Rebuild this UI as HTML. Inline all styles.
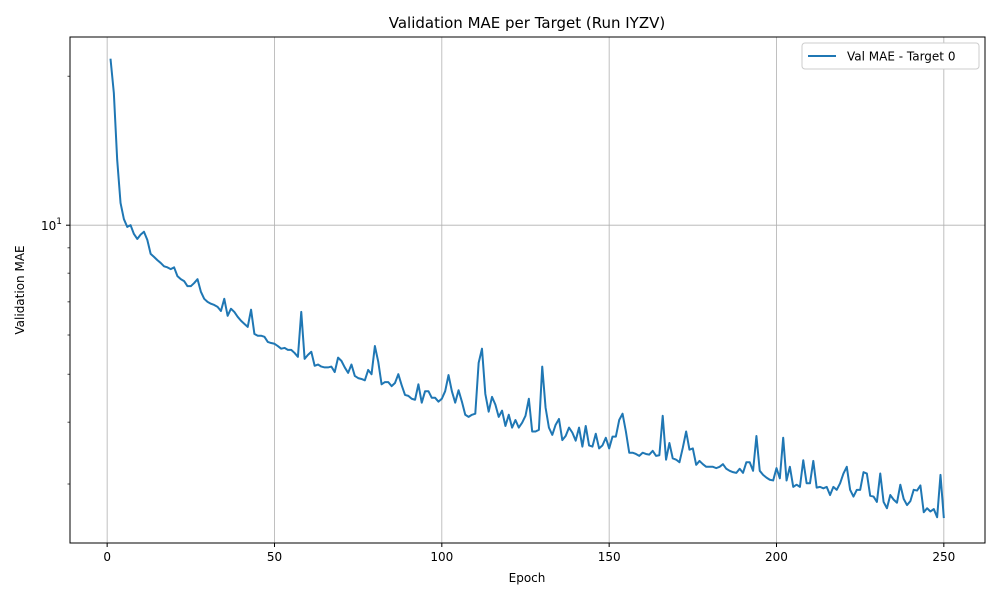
<!DOCTYPE html>
<html><head><meta charset="utf-8"><style>
body{margin:0;background:#fff;font-family:"Liberation Sans","DejaVu Sans",sans-serif}
svg text{font-family:"DejaVu Sans","Liberation Sans",sans-serif;fill:#000}
</style></head><body>
<svg id="chart" width="1000" height="600" xmlns="http://www.w3.org/2000/svg">
<rect width="1000" height="600" fill="#fff"/>
<text x="527" y="28" font-size="15" text-anchor="middle">Validation MAE per Target (Run IYZV)</text>
<g id="grid"></g>
<g id="ticks"></g>
<path id="line" fill="none" stroke="#1f77b4" stroke-width="2" stroke-linejoin="round"/>
<rect x="70" y="37" width="915" height="506" fill="none" stroke="#000" stroke-width="1"/>
<text x="527" y="582" font-size="12" text-anchor="middle">Epoch</text>
<text transform="translate(24,290) rotate(-90)" font-size="12" text-anchor="middle">Validation MAE</text>
<g>
<rect x="802" y="43" width="177" height="26" rx="3" fill="#fff" stroke="#ccc"/>
<line x1="808" y1="56" x2="836" y2="56" stroke="#1f77b4" stroke-width="2"/>
<text x="847" y="60.5" font-size="12">Val MAE - Target 0</text>
</g>
</svg>
<script>
const xTicks=[0,50,100,150,200,250];
const yMajor=[10];
const yMinor=[3,4,5,6,7,8,9,20];
const maeValues=[21.7,18.5,13.55,11.09,10.29,9.92,10.0,9.60,9.38,9.57,9.70,9.34,8.75,8.63,8.50,8.39,8.26,8.22,8.15,8.22,
7.89,7.78,7.71,7.53,7.53,7.64,7.78,7.34,7.10,7.00,6.94,6.90,6.84,6.71,7.10,6.56,6.78,6.68,6.53,6.41,
6.32,6.23,6.75,6.03,5.98,5.98,5.95,5.81,5.78,5.76,5.70,5.63,5.65,5.60,5.60,5.52,5.42,6.68,5.37,5.47,
5.55,5.20,5.23,5.18,5.16,5.16,5.18,5.05,5.40,5.32,5.16,5.03,5.23,4.96,4.91,4.89,4.86,5.10,5.00,5.70,
5.30,4.77,4.82,4.82,4.73,4.80,5.00,4.75,4.54,4.52,4.46,4.44,4.77,4.38,4.62,4.62,4.48,4.48,4.40,4.46,
4.62,4.98,4.62,4.38,4.64,4.40,4.14,4.10,4.14,4.16,5.27,5.63,4.56,4.20,4.50,4.34,4.10,4.22,3.93,4.14,
3.90,4.04,3.90,3.99,4.12,4.46,3.83,3.83,3.86,5.18,4.28,3.90,3.77,3.95,4.06,3.68,3.75,3.90,3.81,3.67,
3.90,3.57,3.93,3.59,3.57,3.79,3.54,3.59,3.72,3.54,3.74,3.74,4.04,4.16,3.83,3.47,3.47,3.45,3.42,3.47,
3.45,3.44,3.50,3.42,3.43,4.12,3.36,3.63,3.38,3.36,3.32,3.55,3.83,3.52,3.54,3.28,3.34,3.29,3.25,3.25,
3.25,3.23,3.25,3.29,3.22,3.19,3.17,3.16,3.22,3.16,3.32,3.32,3.19,3.75,3.19,3.13,3.09,3.06,3.05,3.23,
3.08,3.72,3.05,3.25,2.96,2.99,2.96,3.35,3.01,3.01,3.34,2.95,2.96,2.94,2.96,2.85,2.96,2.92,3.01,3.15,
3.25,2.92,2.83,2.92,2.92,3.17,3.15,2.84,2.83,2.76,3.15,2.76,2.68,2.85,2.79,2.75,2.99,2.80,2.72,2.77,
2.92,2.91,2.98,2.63,2.68,2.64,2.67,2.57,3.13,2.56];
const epochs=maeValues.map((_,i)=>i+1);
const L=70,R=985,T=37,B=543;
const xMin=-11.1,xMax=262.3;
const logMax=Math.log10(24.0),logMin=Math.log10(2.28);
function X(e){return L+(e-xMin)/(xMax-xMin)*(R-L);}
function Y(v){return T+(logMax-Math.log10(v))/(logMax-logMin)*(B-T);}
const NS='http://www.w3.org/2000/svg';
const grid=document.getElementById('grid'),ticks=document.getElementById('ticks');
function mk(tag,attrs,parent){const el=document.createElementNS(NS,tag);for(const k in attrs)el.setAttribute(k,attrs[k]);parent.appendChild(el);return el;}
xTicks.forEach(t=>{
  const x=X(t);
  const g=mk('line',{x1:x,x2:x,y1:T,y2:B,stroke:'#b0b0b0','stroke-width':0.8},grid);
  
  
  const tk=mk('line',{x1:x,x2:x,y1:B,y2:B+4,stroke:'#000'},ticks);
  
  
  const tx=mk('text',{x:x,y:B+18,'font-size':12,'text-anchor':'middle'},ticks);
  tx.textContent=t;
  
  
});
yMajor.forEach(v=>{
  const y=Y(v);
  const g=mk('line',{x1:L,x2:R,y1:y,y2:y,stroke:'#b0b0b0','stroke-width':0.8},grid);
  
  
  const tk=mk('line',{x1:L-4,x2:L,y1:y,y2:y,stroke:'#000'},ticks);
  
  
  const tx=mk('text',{x:L-8,y:y+5,'font-size':12,'text-anchor':'end'},ticks);
  tx.innerHTML='10<tspan dy="-6" font-size="9">1</tspan>';
  
  
});
yMinor.forEach(v=>{
  const y=Y(v);
  const tk=mk('line',{x1:L-2.5,x2:L,y1:y,y2:y,stroke:'#000','stroke-width':0.7},ticks);
  
  
});
document.getElementById('line').setAttribute('d',maeValues.map((v,i)=>(i?'L':'M')+X(epochs[i]).toFixed(2)+','+Y(v).toFixed(2)).join(''));
</script>
</body></html>
